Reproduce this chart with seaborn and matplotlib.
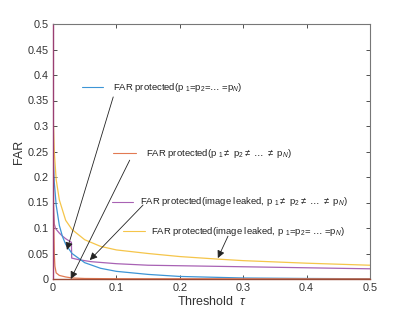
import numpy as np
import pandas as pd
import matplotlib
matplotlib.use("Agg")
import matplotlib.pyplot as plt
import seaborn as sns

# ---- data ----
blue_x = [0.0, 0.002, 0.005, 0.01, 0.015, 0.02, 0.03, 0.05, 0.075, 0.1, 0.15, 0.2, 0.3, 0.4, 0.5]
blue_y = [0.25, 0.19, 0.145, 0.105, 0.083, 0.068, 0.05, 0.032, 0.021, 0.015, 0.009, 0.005, 0.002, 0.001, 0.0005]

orange_x = [0.0, 0.001, 0.002, 0.003, 0.005, 0.01, 0.02, 0.03, 0.05, 0.1, 0.5]
orange_y = [0.3, 0.12, 0.05, 0.025, 0.012, 0.007, 0.004, 0.002, 0.001, 0.0005, 0.0002]

purple_x = [0.0, 0.001, 0.002, 0.004, 0.01, 0.015, 0.02, 0.025, 0.029, 0.0295, 0.04, 0.06, 0.1, 0.15, 0.2, 0.3, 0.4, 0.5]
purple_y = [0.16, 0.13, 0.108, 0.099, 0.09, 0.084, 0.079, 0.075, 0.072, 0.041, 0.038, 0.034, 0.030, 0.027, 0.026, 0.024, 0.022, 0.020]

yellow_x = [0.0, 0.002, 0.005, 0.01, 0.02, 0.03, 0.05, 0.075, 0.1, 0.15, 0.2, 0.26, 0.3, 0.4, 0.5]
yellow_y = [0.33, 0.25, 0.195, 0.155, 0.115, 0.097, 0.077, 0.064, 0.057, 0.050, 0.044, 0.039, 0.036, 0.031, 0.027]

series_names = ["eq", "neq", "leak_neq", "leak_eq"]
labels = [
    r"FAR protected(p $_1$=p$_2$=$\ldots$ =p$_N$)",
    r"FAR protected(p $_1$$\neq$ p$_2$$\neq$ $\ldots$ $\neq$ p$_N$)",
    r"FAR protected(image leaked, p $_1$$\neq$ p$_2$$\neq$ $\ldots$ $\neq$ p$_N$)",
    r"FAR protected(image leaked, p $_1$=p$_2$= $\ldots$ =p$_N$)",
]
colors = {"eq": "#3d95d6", "neq": "#e27a52", "leak_neq": "#a862b4", "leak_eq": "#f5c54a"}

x_ticks = [0, 0.1, 0.2, 0.3, 0.4, 0.5]
x_ticklabels = ["0", "0.1", "0.2", "0.3", "0.4", "0.5"]
y_ticks = [0, 0.05, 0.1, 0.15, 0.2, 0.25, 0.3, 0.35, 0.4, 0.45, 0.5]
y_ticklabels = ["0", "0.05", "0.1", "0.15", "0.2", "0.25", "0.3", "0.35", "0.4", "0.45", "0.5"]

df = pd.concat([
    pd.DataFrame({"x": blue_x, "y": blue_y, "s": "eq"}),
    pd.DataFrame({"x": orange_x, "y": orange_y, "s": "neq"}),
    pd.DataFrame({"x": purple_x, "y": purple_y, "s": "leak_neq"}),
    pd.DataFrame({"x": yellow_x, "y": yellow_y, "s": "leak_eq"}),
], ignore_index=True)

# ---- style ----
sns.set_style("ticks")
plt.rcParams["font.family"] = ["Liberation Sans", "DejaVu Sans"]
plt.rcParams["mathtext.fontset"] = "custom"
plt.rcParams["mathtext.rm"] = "Liberation Sans"
plt.rcParams["mathtext.it"] = "Liberation Sans:italic"
plt.rcParams["mathtext.sf"] = "Liberation Sans"

fig = plt.figure(figsize=(4.09, 3.14), dpi=100)
ax = fig.add_axes([53 / 409, 35 / 314, (370 - 53) / 409, (279 - 24) / 314])

for name in ["leak_eq", "leak_neq", "eq", "neq"]:
    sub = df[df["s"] == name]
    sns.lineplot(data=sub, x="x", y="y", ax=ax, color=colors[name], lw=0.9,
                 sort=False, estimator=None, legend=False)

ax.set_xlim(0, 0.5)
ax.set_ylim(0, 0.5)
ax.set_xticks(x_ticks)
ax.set_xticklabels(x_ticklabels)
ax.set_yticks(y_ticks)
ax.set_yticklabels(y_ticklabels)
ax.tick_params(direction="in", top=True, right=True, length=3, width=0.6,
               labelsize=7.8, colors="#333333", pad=3)
ax.set_xlabel(r"Threshold  $\tau$", fontsize=9, color="#333333", labelpad=1)
ax.set_ylabel("FAR", fontsize=9, color="#333333", labelpad=2)
for sp in ["top", "right"]:
    ax.spines[sp].set_color("#777777")
    ax.spines[sp].set_linewidth(0.8)
ax.spines["left"].set_color("#9a3f72")
ax.spines["bottom"].set_color("#9a4a36")
ax.spines["left"].set_linewidth(1.0)
ax.spines["bottom"].set_linewidth(1.0)

# pseudo-legend entries: (line x0, line x1, y, text x)
entries = [
    ("eq", 0.046, 0.079, 0.376, 0.095),
    ("neq", 0.095, 0.131, 0.247, 0.147),
    ("leak_neq", 0.093, 0.126, 0.151, 0.137),
    ("leak_eq", 0.110, 0.145, 0.094, 0.155),
]
for (name, x0, x1, yy, tx), lab in zip(entries, labels):
    ax.plot([x0, x1], [yy, yy], color=colors[name], lw=0.8)
    ax.text(tx, yy, lab, fontsize=6.8, va="center", ha="left", color="#222222")

# arrows: (start, tip)
arrows = [
    ((0.095, 0.357), (0.022, 0.057)),
    ((0.121, 0.233), (0.028, 0.0)),
    ((0.142, 0.145), (0.058, 0.037)),
    ((0.276, 0.084), (0.260, 0.041)),
]
for (sx, sy), (ex, ey) in arrows:
    ax.annotate("", xy=(ex, ey), xytext=(sx, sy),
                arrowprops=dict(arrowstyle="-|>", color="#222222", lw=0.6,
                                mutation_scale=11, shrinkA=0, shrinkB=0))

fig.savefig("out.png", dpi=100)
